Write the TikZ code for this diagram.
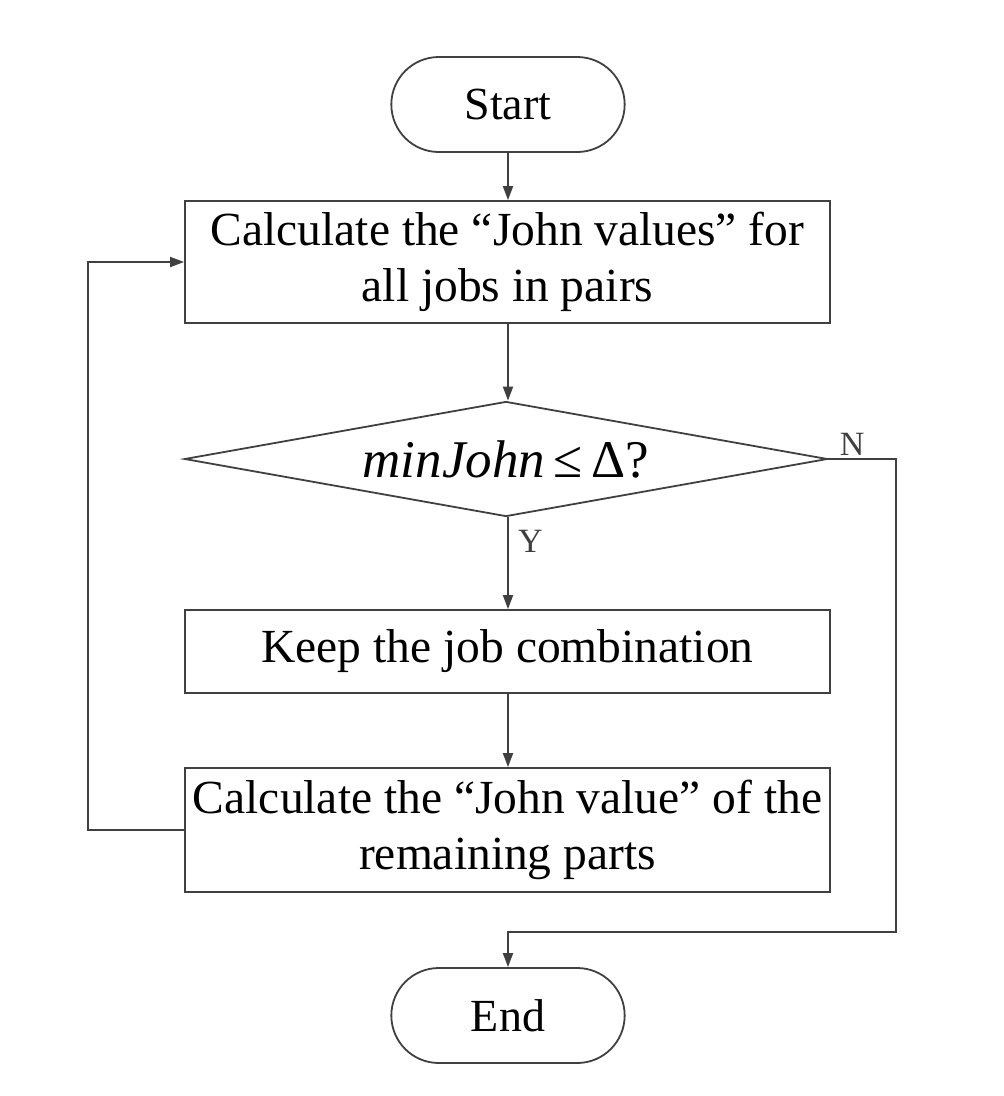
\documentclass[tikz,border=0pt]{standalone}
\usepackage{fontspec}
\setmainfont{Liberation Serif}
\usetikzlibrary{arrows.meta,shapes.geometric,shapes.misc}

\begin{document}
\begin{tikzpicture}[x=1pt,y=-1pt,
    flowline/.style={-{Triangle[length=14pt,width=10pt]},line width=1.8pt,black!75},
    terminal/.style={draw=black!75,line width=1.8pt,rounded rectangle,minimum width=240pt,minimum height=95pt,font=\fontsize{46}{50}\selectfont},
    process/.style={draw=black!75,line width=1.8pt,rectangle,minimum width=645pt,align=center,font=\fontsize{47.5}{56}\selectfont},
    decision/.style={draw=black!75,line width=1.8pt,diamond,aspect=5.5,inner sep=0pt,minimum width=643pt,minimum height=115pt,font=\fontsize{53}{55}\selectfont},
    branch/.style={font=\fontsize{34}{36}\selectfont}]
  \useasboundingbox (0,0) rectangle (1004,1096);
  \node[terminal] (start) at (508,104.5) {Start};
  \node[process,minimum height=122pt] (calc) at (507.5,262) {Calculate the “John values” for\\all jobs in pairs};
  \node[decision] (decide) at (506,459) {\textit{minJohn}\,≤\,Δ?};
  \node[process,minimum height=83pt] (keep) at (507.5,651.5) {Keep the job combination};
  \node[process,minimum height=124pt] (remain) at (507.5,830) {Calculate the “John value” of the\\remaining parts};
  \node[terminal] (finish) at (508,1015.5) {End};
  \coordinate (loopbot) at (88,830);
  \coordinate (looptop) at (88,262);
  \coordinate (noright) at (896,459);
  \coordinate (nobot) at (896,932);
  \draw[flowline] (start) -- (start |- calc.north);
  \draw[flowline] (start |- calc.south) -- (start |- decide.north);
  \draw[flowline] (start |- decide.south) -- node[branch,pos=0.26,anchor=west,xshift=6pt] {Y} (start |- keep.north);
  \draw[flowline] (start |- keep.south) -- (start |- remain.north);
  \draw[flowline] (remain.west |- loopbot) -- (loopbot) -- (looptop) -- (calc.west |- looptop);
  \draw[flowline] (decide.east) -- node[branch,pos=0.35,above,inner sep=3pt] {N} (noright) -- (nobot) -- (finish.north |- nobot) -- (finish.north);
\end{tikzpicture}
\end{document}
